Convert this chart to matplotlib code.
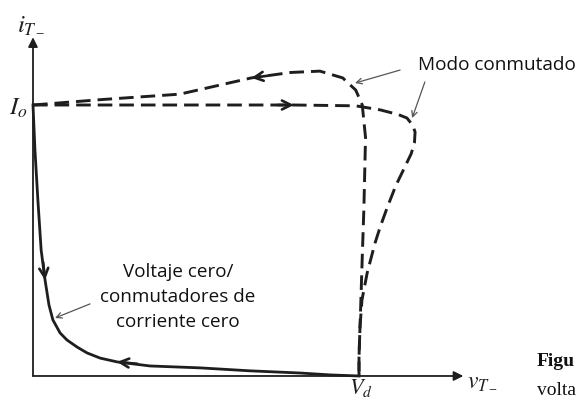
import matplotlib
matplotlib.use("Agg")
import matplotlib.pyplot as plt
import numpy as np

# units: v_T / V_d on x, i_T / I_o on y
# turn-off path with current overshoot (upper dashed loop)
loop_v = [0, 0.21, 0.45, 0.67, 0.79, 0.88, 0.95, 0.99, 1.01, 1.02, 1.015, 1.01, 1.005, 1.0, 1.0]
loop_i = [1.0, 1.02, 1.04, 1.10, 1.12, 1.125, 1.10, 1.055, 1.0, 0.88, 0.62, 0.44, 0.25, 0.07, 0.0]

# turn-on path with voltage overshoot (outer dashed loop)
outer_v = [0, 0.51, 0.80, 0.99, 1.065, 1.12, 1.147, 1.165, 1.172, 1.170, 1.160, 1.140, 1.112,
           1.086, 1.065, 1.049, 1.025, 1.009, 1.003, 1.0, 1.0]
outer_i = [1.0, 1.0, 1.0, 0.997, 0.982, 0.965, 0.952, 0.925, 0.90, 0.86, 0.82, 0.77, 0.70,
           0.62, 0.55, 0.49, 0.38, 0.28, 0.18, 0.07, 0.0]

# soft switching trajectory (solid)
soft_v = [0, 0.006, 0.015, 0.025, 0.037, 0.049, 0.061, 0.083, 0.104, 0.135, 0.166, 0.206, 0.258, 0.359, 0.512, 0.666, 0.819, 0.911, 1.0]
soft_i = [1.0, 0.834, 0.649, 0.465, 0.354, 0.262, 0.207, 0.159, 0.133, 0.107, 0.085, 0.066, 0.052, 0.037, 0.030, 0.019, 0.011, 0.004, 0.0]

ink = "#1e1e1e"

fig = plt.figure(figsize=(5.79, 4.01), dpi=100)
ax = fig.add_axes([0, 0, 1, 1])
ax.set_xlim(-0.1012, 1.6748)
ax.set_ylim(-0.0923, 1.3875)
ax.axis("off")

# axes with arrows
ax.annotate("", xy=(0, 1.25), xytext=(0, 0),
            arrowprops=dict(arrowstyle="-|>", lw=1.3, color=ink, mutation_scale=14, shrinkA=0, shrinkB=0))
ax.annotate("", xy=(1.32, 0), xytext=(0, 0),
            arrowprops=dict(arrowstyle="-|>", lw=1.3, color=ink, mutation_scale=14, shrinkA=0, shrinkB=0))

ax.plot(loop_v, loop_i, color=ink, lw=2.1, dashes=(5, 2.4), solid_capstyle="butt")
ax.plot(outer_v, outer_i, color=ink, lw=2.1, dashes=(5, 2.4), solid_capstyle="butt")
ax.plot(soft_v, soft_i, color=ink, lw=2.0)

def head(tip, tail):
    ax.annotate("", xy=tip, xytext=tail,
                arrowprops=dict(arrowstyle="->", lw=1.9, color=ink, mutation_scale=16, shrinkA=0, shrinkB=0))

head((0.67, 1.10), (0.72, 1.108))
head((0.80, 1.0), (0.75, 1.0))
head((0.037, 0.354), (0.031, 0.42))
head((0.258, 0.052), (0.32, 0.045))

# callouts
grey = "#555555"
for start, end in [((1.126, 1.129), (0.988, 1.081)),
                   ((1.202, 1.085), (1.163, 0.952)),
                   ((0.175, 0.266), (0.0675, 0.214))]:
    ax.annotate("", xy=end, xytext=start,
                arrowprops=dict(arrowstyle="->", lw=0.9, color=grey, mutation_scale=10, shrinkA=0, shrinkB=0))

sans = ["Open Sans", "DejaVu Sans"]
ax.text(1.181, 1.148, "Modo conmutado", family=sans, fontsize=13.7, color="#111111",
        ha="left", va="center")
ax.text(0.445, 0.29, "Voltaje cero/\nconmutadores de\ncorriente cero", family=sans,
        fontsize=13.6, color="#111111", ha="center", va="center", linespacing=1.5)

plt.rcParams["mathtext.fontset"] = "stix"
ax.text(-0.006, 1.303, r"$i_{T_-}$", fontsize=18, color=ink, ha="center", va="center")
ax.text(-0.045, 0.99, r"$I_o$", fontsize=18, color=ink, ha="center", va="center")
ax.text(1.006, -0.045, r"$V_d$", fontsize=16, color=ink, ha="center", va="center")
ax.text(1.33, -0.01, r"$v_{T_-}$", fontsize=17, color=ink, ha="left", va="center")

# caption fragments, cut by the page edge in the source
ax.text(1.546, 0.055, "Figu", family="Liberation Serif", fontweight="bold",
        fontsize=14, color="#111111", ha="left", va="center")
ax.text(1.546, -0.052, "volta", family="Liberation Serif",
        fontsize=14, color="#111111", ha="left", va="center")

fig.savefig("out.png", dpi=100)
